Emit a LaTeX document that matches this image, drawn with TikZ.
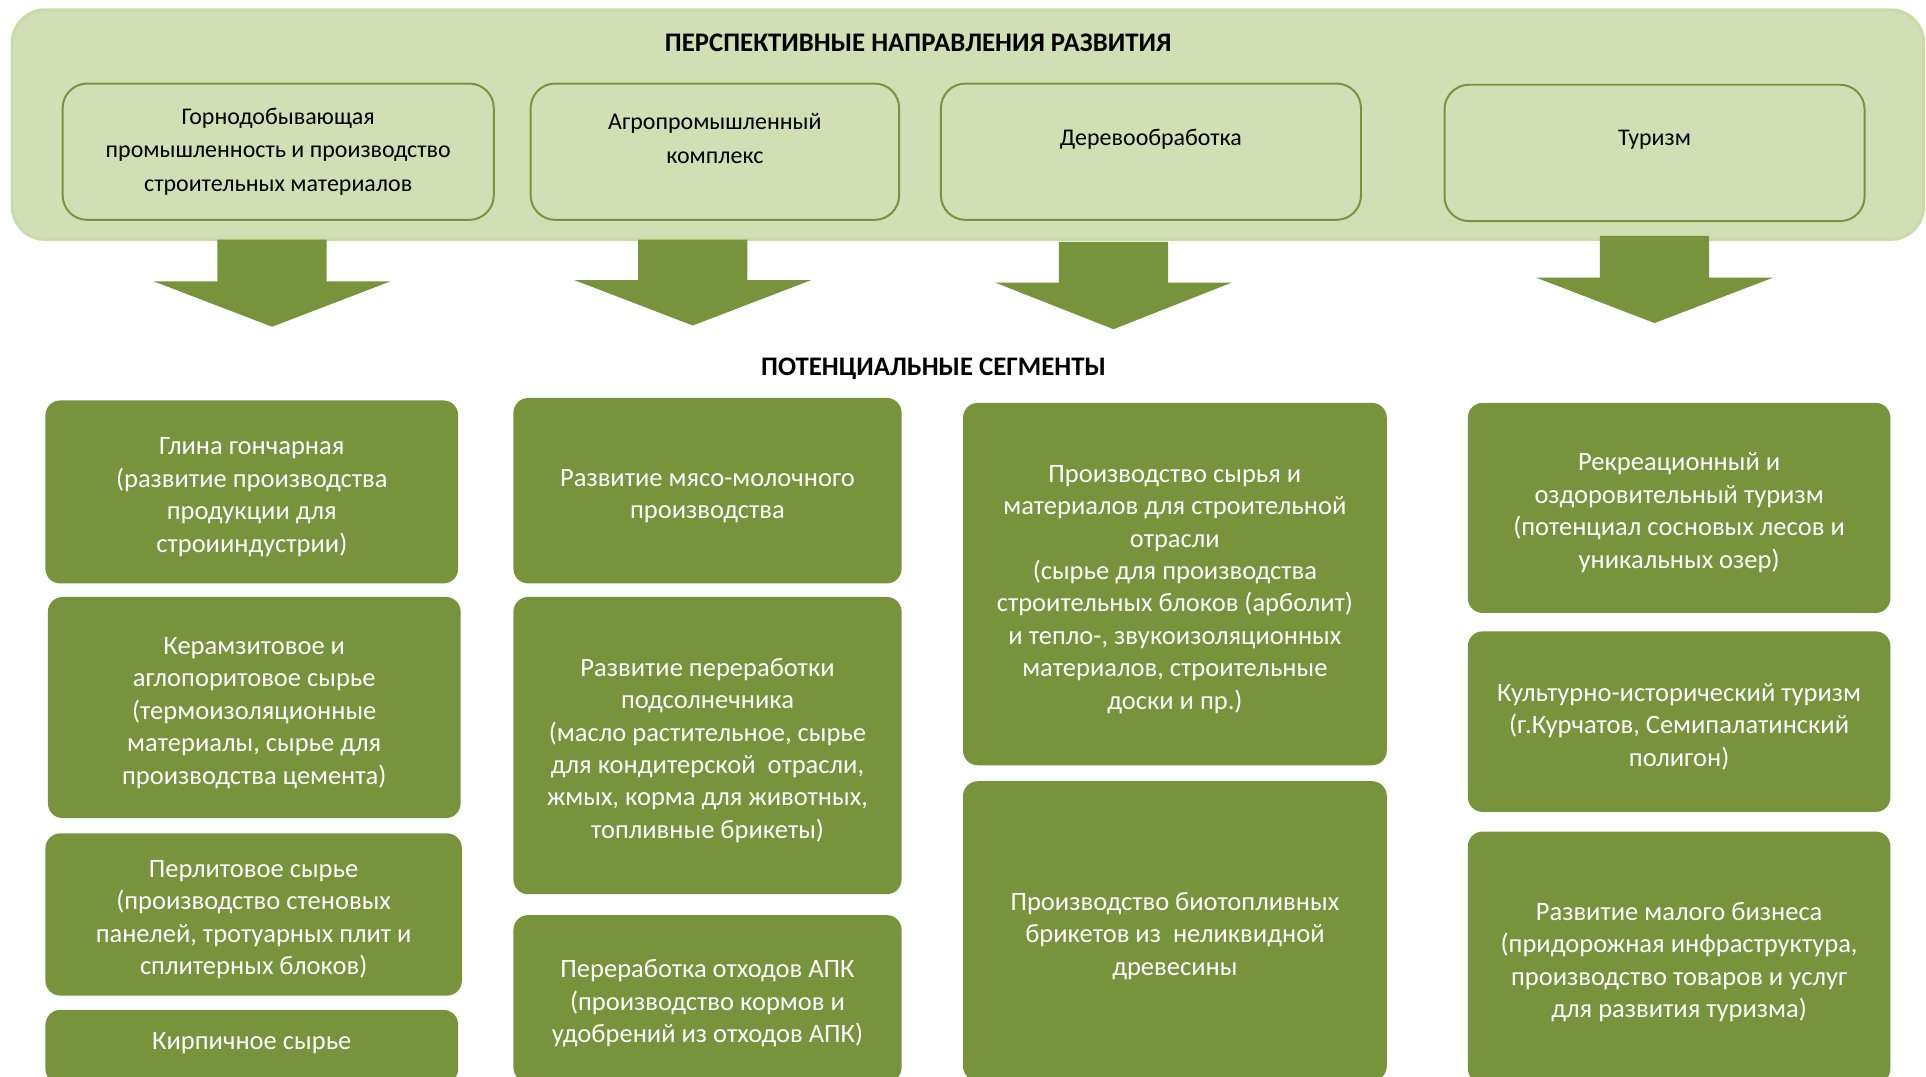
\documentclass[tikz,border=0pt]{standalone}
\usepackage{fontspec}
\setmainfont{Carlito}
\usetikzlibrary{calc}
\definecolor{dkgreen}{HTML}{77933C}
\definecolor{ltgreen}{HTML}{D1DFB4}
\definecolor{ltedge}{HTML}{C9DBA8}
\newcommand\fl{\rule{0pt}{22.5pt}}
\tikzset{
  frame/.style={draw=ltedge, line width=2.5, fill=ltgreen, rounded corners=27, inner sep=0},
  tbox/.style={draw=dkgreen, line width=1.6, fill=ltgreen, rounded corners=20, minimum height=111, inner sep=0},
  ttext/.style={align=center, font=\fontsize{19.5}{27.5}\selectfont, text=black},
  gbox/.style={fill=dkgreen, rounded corners=12, inner sep=0, align=center, text=white,
    font=\fontsize{21.6}{26.4}\selectfont},
  heading/.style={font=\bfseries\fontsize{21.8}{26}\selectfont, text=black},
  blockarrow/.style={fill=dkgreen}
}
\newcommand\blkarrow[4]{%
  \fill[blockarrow] (#1-44.5,#2) -- (#1+44.5,#2) -- (#1+44.5,#3) -- (#1+96.5,#3) -- (#1,#4)
    -- (#1-96.5,#3) -- (#1-44.5,#3) -- cycle;}
\begin{document}
\begin{tikzpicture}[x=1pt,y=-1pt]
\useasboundingbox (0,0) rectangle (1568,876);
\clip (0,0) rectangle (1568,876);
% top frame
\node[frame, minimum width=1556, minimum height=187] (frame) at (788,101.5) {};
\node[heading] (title) at (747.5,35) {ПЕРСПЕКТИВНЫЕ НАПРАВЛЕНИЯ РАЗВИТИЯ};
\node[tbox, minimum width=351] (t1) at (226.5,123.5) {};
\node[tbox, minimum width=300] (t2) at (582,123.5) {};
\node[tbox, minimum width=342] (t3) at (937,123.5) {};
\node[tbox, minimum width=342] (t4) at (1347,124.5) {};
\node[ttext] (t1txt) at (226.5,123.5) {Горнодобывающая\\промышленность и производство\\строительных материалов};
\node[ttext] (t2txt) at (582,112.5) {Агропромышленный\\комплекс};
\node[ttext] (t3txt) at (937,113) {Деревообработка};
\node[ttext] (t4txt) at (1347,114) {Туризм};
% block arrows
\blkarrow{221.5}{195}{229}{266}
\blkarrow{564}{195}{228}{265}
\blkarrow{906.5}{197}{230}{268}
\blkarrow{1347}{192}{226}{263}
\node[heading] (segs) at (760,300) {ПОТЕНЦИАЛЬНЫЕ СЕГМЕНТЫ};
% column 1
\node[gbox, minimum width=336, minimum height=149] (b1) at (205,400.5)
  {\fl Глина гончарная\\(развитие производства\\продукции для\\строииндустрии)};
\node[gbox, minimum width=336, minimum height=180] (b2) at (207,576)
  {\fl Керамзитовое и\\аглопоритовое сырье\\(термоизоляционные\\материалы, сырье для\\производства цемента)};
\node[gbox, minimum width=339, minimum height=132] (b3) at (206.5,744.5)
  {\fl Перлитовое сырье\\(производство стеновых\\панелей, тротуарных плит и\\сплитерных блоков)};
\node[gbox, minimum width=336, minimum height=60, anchor=north] (b4) at (205,822) {};
\node[text=white, font=\fontsize{21.6}{26.4}\selectfont] (b4txt) at (205,849) {Кирпичное сырье};
% column 2
\node[gbox, minimum width=316, minimum height=151] (c1) at (576,399.5)
  {\fl Развитие мясо-молочного\\производства};
\node[gbox, minimum width=316, minimum height=242] (c2) at (576,607)
  {\fl Развитие переработки\\подсолнечника\\(масло растительное, сырье\\для кондитерской\ \ отрасли,\\жмых, корма для животных,\\топливные брикеты)};
\node[gbox, minimum width=316, minimum height=136] (c3) at (576,813)
  {\fl Переработка отходов АПК\\(производство кормов и\\удобрений из отходов АПК)};
% column 3
\node[gbox, minimum width=345, minimum height=295] (d1) at (956.5,475.5)
  {\fl Производство сырья и\\материалов для строительной\\отрасли\\(сырье для производства\\строительных блоков (арболит)\\и тепло-, звукоизоляционных\\материалов, строительные\\доски и пр.)};
\node[gbox, minimum width=345, minimum height=244] (d2) at (956.5,758)
  {\fl Производство биотопливных\\брикетов из\ \ неликвидной\\древесины};
% column 4
\node[gbox, minimum width=344, minimum height=171] (e1) at (1367,413.5)
  {\fl Рекреационный и\\оздоровительный туризм\\(потенциал сосновых лесов и\\уникальных озер)};
\node[gbox, minimum width=344, minimum height=147] (e2) at (1367,587.5)
  {\fl Культурно-исторический туризм\\(г.Курчатов, Семипалатинский\\полигон)};
\node[gbox, minimum width=344, minimum height=205] (e3) at (1367,779.5)
  {\fl Развитие малого бизнеса\\(придорожная инфраструктура,\\производство товаров и услуг\\для развития туризма)};
\end{tikzpicture}
\end{document}
